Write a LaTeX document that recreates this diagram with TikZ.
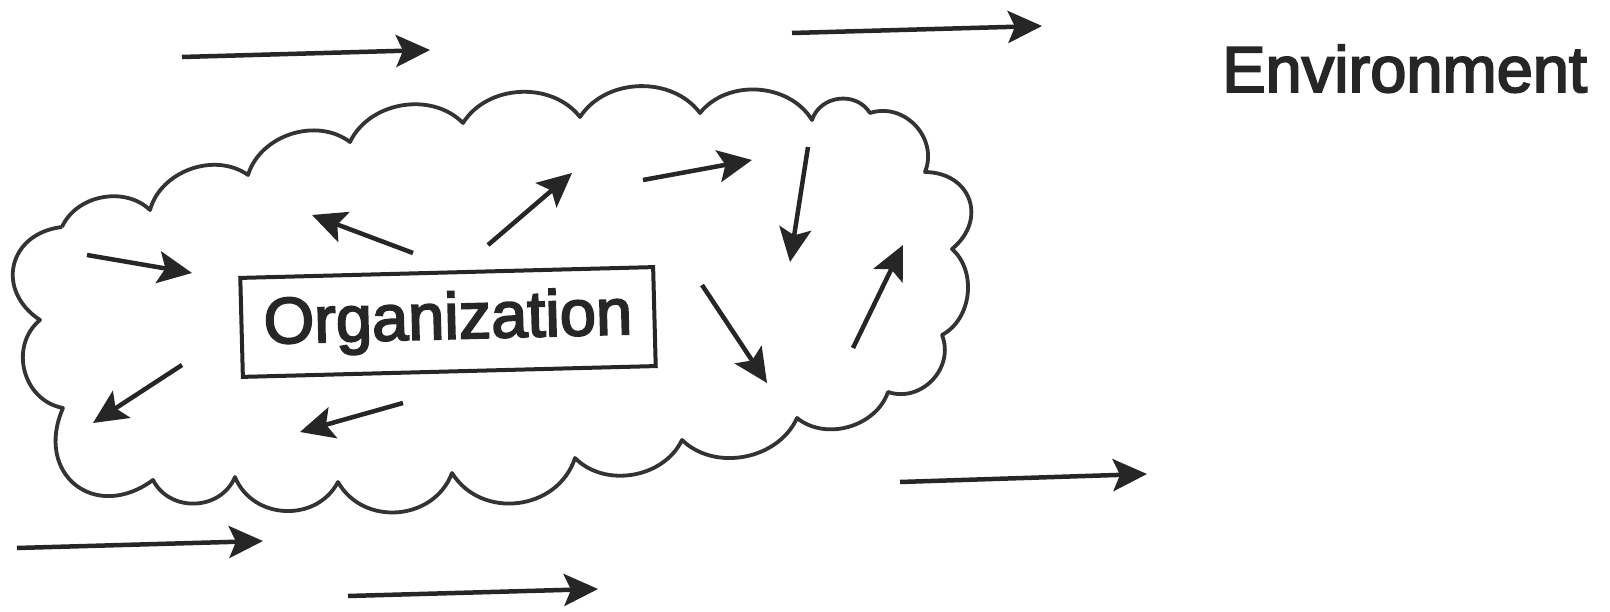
\documentclass[tikz,border=0pt]{standalone}
\usepackage{fontspec}
\setmainfont[FakeBold=3]{Liberation Sans}
\usetikzlibrary{arrows.meta}
\begin{document}
\begin{tikzpicture}[x=1pt,y=-1pt,
  cloudline/.style={draw=black!80, line width=3.8pt, line join=round},
  bump/.style={bend left=55},
  midbump/.style={bend left=65, looseness=1.15},
  bigbump/.style={bend left=70, looseness=1.45},
  flow/.style={draw=black!85, line width=4.5pt, -{Stealth[length=34pt,width=32pt,inset=7pt]}},
  label/.style={font=\fontsize{65}{78}\selectfont, text=black!85, inner sep=0pt},
]
\useasboundingbox (0,0) rectangle (1610,612);
\fill[white] (0,0) rectangle (1610,612);
% cloud cusps
\coordinate (c1) at (62,227);
\coordinate (c2) at (150,210);
\coordinate (c3) at (248,175);
\coordinate (c4) at (350,142);
\coordinate (c5) at (463,123);
\coordinate (c6) at (580,117);
\coordinate (c7) at (700,113);
\coordinate (c8) at (812,120);
\coordinate (c9) at (870,113);
\coordinate (c10) at (925,172);
\coordinate (c11) at (952,249);
\coordinate (c12) at (942,335);
\coordinate (c13) at (888,392);
\coordinate (c14) at (797,418);
\coordinate (c15) at (682,440);
\coordinate (c16) at (575,458);
\coordinate (c17) at (452,473);
\coordinate (c18) at (338,482);
\coordinate (c19) at (235,477);
\coordinate (c20) at (153,480);
\coordinate (c21) at (63,408);
\coordinate (c22) at (40,320);
\draw[cloudline] (c1) to[bump] (c2) to[bump] (c3) to[bump] (c4) to[bump] (c5)
  to[bump] (c6) to[bump] (c7) to[bump] (c8) to[midbump] (c9) to[midbump] (c10)
  to[bigbump] (c11) to[bump] (c12) to[midbump] (c13) to[bump] (c14) to[bump] (c15)
  to[bump] (c16) to[midbump] (c17) to[midbump] (c18) to[midbump] (c19) to[midbump] (c20)
  to[bend left=75, looseness=1.6] (c21) to[midbump] (c22) to[bigbump] (c1);
% labels
\node[label, anchor=base west] (env) at (1222,92) {Environment};
\node[label, draw=black!85, line width=4pt, rotate=1.5, minimum width=413pt, minimum height=99pt] (org) at (448,322) {Organization};
% outside arrows
\coordinate (o1s) at (182,57);  \coordinate (o1e) at (430,50);
\coordinate (o2s) at (792,33);  \coordinate (o2e) at (1042,26);
\coordinate (o3s) at (900,482); \coordinate (o3e) at (1147,474);
\coordinate (o4s) at (17,548);  \coordinate (o4e) at (263,541);
\coordinate (o5s) at (348,596); \coordinate (o5e) at (598,589);
\draw[flow] (o1s) -- (o1e);
\draw[flow] (o2s) -- (o2e);
\draw[flow] (o3s) -- (o3e);
\draw[flow] (o4s) -- (o4e);
\draw[flow] (o5s) -- (o5e);
% inside arrows
\coordinate (i1s) at (87,255);  \coordinate (i1e) at (192,273);
\coordinate (i2s) at (413,253); \coordinate (i2e) at (312,215);
\coordinate (i3s) at (488,245); \coordinate (i3e) at (572,173);
\coordinate (i4s) at (643,180); \coordinate (i4e) at (752,160);
\coordinate (i5s) at (808,147); \coordinate (i5e) at (790,262);
\coordinate (i6s) at (702,285); \coordinate (i6e) at (767,383);
\coordinate (i7s) at (853,348); \coordinate (i7e) at (903,245);
\coordinate (i8s) at (182,365); \coordinate (i8e) at (93,423);
\coordinate (i9s) at (403,403); \coordinate (i9e) at (300,432);
\foreach \k in {1,...,9} {\draw[flow] (i\k s) -- (i\k e);}
\end{tikzpicture}
\end{document}
